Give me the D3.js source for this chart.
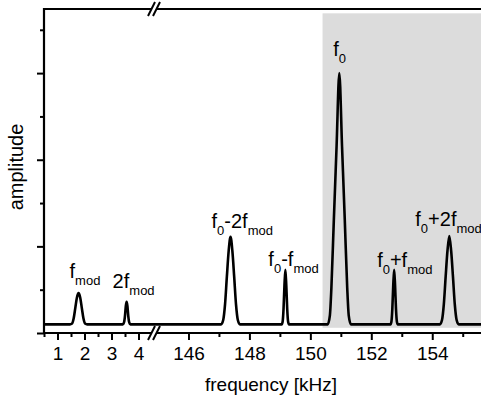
<!DOCTYPE html>
<html>
<head>
<meta charset="utf-8">
<script src="https://cdn.jsdelivr.net/npm/d3@7/dist/d3.min.js"></script>
<style>
  html, body { margin: 0; padding: 0; background: #fff; }
  svg { display: block; font-family: "Liberation Sans", Arial, sans-serif; }
</style>
</head>
<body>
<svg id="chart" width="481" height="399"></svg>
<script>
// ---- data ----
// low-frequency segment (kHz) of the spectrum
const lowFreq = [0.5, 1.46, 1.54, 1.60, 1.66, 1.72, 1.78, 1.84, 1.90, 1.96, 2.02, 2.10,
                 3.42, 3.47, 3.50, 3.53, 3.56, 3.59, 3.62, 3.65, 3.70, 4.5];
const lowAmp  = [0.1, 0.1, 0.11, 0.17, 0.29, 0.41, 0.46, 0.41, 0.29, 0.17, 0.11, 0.1,
                 0.1, 0.13, 0.2, 0.31, 0.36, 0.31, 0.2, 0.13, 0.1, 0.1];
// high-frequency segment (kHz)
const highFreq = [145,
  147.07, 147.14, 147.20, 147.26, 147.32, 147.38, 147.44, 147.50, 147.56, 147.62, 147.69,
  149.06, 149.09, 149.12, 149.15, 149.18, 149.21, 149.24, 149.27, 149.30,
  150.57, 150.64, 150.69, 150.77, 150.86, 150.95, 151.04, 151.13, 151.21, 151.26, 151.33,
  152.63, 152.66, 152.69, 152.72, 152.75, 152.78, 152.81, 152.84, 152.87,
  154.25, 154.32, 154.38, 154.44, 154.50, 154.56, 154.62, 154.68, 154.74, 154.80, 154.87,
  155.6];
const highAmp = [0.1,
  0.1, 0.15, 0.33, 0.65, 0.95, 1.11, 0.95, 0.65, 0.33, 0.15, 0.1,
  0.1, 0.13, 0.28, 0.55, 0.73, 0.55, 0.28, 0.13, 0.1,
  0.1, 0.2, 0.52, 1.3, 2.15, 3.0, 2.15, 1.3, 0.52, 0.2, 0.1,
  0.1, 0.13, 0.28, 0.55, 0.73, 0.55, 0.28, 0.13, 0.1,
  0.1, 0.15, 0.33, 0.65, 0.95, 1.12, 0.95, 0.65, 0.33, 0.15, 0.1,
  0.1];
// peak labels
const peakLabels = ["f_{mod}", "2f_{mod}", "f_{0}-2f_{mod}", "f_{0}-f_{mod}", "f_{0}", "f_{0}+f_{mod}", "f_{0}+2f_{mod}"];
const peakFreq   = [1.78, 3.56, 147.38, 149.18, 150.95, 152.75, 154.56];
const peakAmp    = [0.46, 0.36, 1.11, 0.73, 3.0, 0.73, 1.12];
const peakSegment = ["low", "low", "high", "high", "high", "high", "high"];
// ticks
const lowMajor = [1, 2, 3, 4];
const lowMinor = [0.5, 1.5, 2.5, 3.5];
const highMajor = [146, 148, 150, 152, 154];
const highMinor = [147, 149, 151, 153, 155];
const yMajor = [0, 1, 2, 3];
const yMinor = [0.5, 1.5, 2.5, 3.5];
// shaded region (kHz, amplitude)
const shadeFreq = [150.4, 155.6];
const shadeAmp = [0.06, 3.69];
const xTitle = "frequency [kHz]";
const yTitle = "amplitude";

// ---- layout ----
const svg = d3.select("#chart");
const L = 44, T = 9, B = 333, R = 481;
const xLow = d3.scaleLinear().domain([0.5, 4.5]).range([L, 152]);
const xHigh = d3.scaleLinear().domain([145, 155.6]).range([158, R]);
const y = d3.scaleLinear().domain([0, 3.74]).range([B, T]);
const breakX = 154;

// shaded region
svg.append("rect")
  .attr("x", xHigh(shadeFreq[0])).attr("y", y(shadeAmp[1]))
  .attr("width", xHigh(shadeFreq[1]) - xHigh(shadeFreq[0]))
  .attr("height", y(shadeAmp[0]) - y(shadeAmp[1]))
  .attr("fill", "#dcdcdc");

// axes ticks
function styleAxis(g) {
  g.select(".domain").remove();
  g.selectAll(".tick line").attr("stroke", "#000").attr("stroke-width", 2);
  g.selectAll("text").attr("font-size", 19).attr("fill", "#000")
    .attr("font-family", "Liberation Sans, Arial, sans-serif");
}
svg.append("g").attr("transform", `translate(0,${B})`)
  .call(d3.axisBottom(xLow).tickValues(lowMajor).tickSize(7).tickPadding(7).tickFormat(d3.format("d")))
  .call(styleAxis);
svg.append("g").attr("transform", `translate(0,${B})`)
  .call(d3.axisBottom(xLow).tickValues(lowMinor).tickSize(4).tickFormat(""))
  .call(styleAxis);
svg.append("g").attr("transform", `translate(0,${B})`)
  .call(d3.axisBottom(xHigh).tickValues(highMajor).tickSize(7).tickPadding(7).tickFormat(d3.format("d")))
  .call(styleAxis);
svg.append("g").attr("transform", `translate(0,${B})`)
  .call(d3.axisBottom(xHigh).tickValues(highMinor).tickSize(4).tickFormat(""))
  .call(styleAxis);
svg.append("g").attr("transform", `translate(${L},0)`)
  .call(d3.axisLeft(y).tickValues(yMajor).tickSize(7).tickFormat(""))
  .call(styleAxis);
svg.append("g").attr("transform", `translate(${L},0)`)
  .call(d3.axisLeft(y).tickValues(yMinor).tickSize(4).tickFormat(""))
  .call(styleAxis);

// axis lines
const axisG = svg.append("g").attr("stroke", "#000").attr("stroke-width", 2.2).attr("fill", "none");
axisG.append("line").attr("x1", L - 1).attr("x2", R).attr("y1", B).attr("y2", B);
axisG.append("line").attr("x1", L - 1).attr("x2", R).attr("y1", T).attr("y2", T);
axisG.append("line").attr("x1", L).attr("x2", L).attr("y1", T - 1).attr("y2", B + 1);

// spectrum
const line = d3.line().curve(d3.curveMonotoneX);
const lowPts = lowFreq.map((f, i) => [xLow(f), y(lowAmp[i])]);
const highPts = highFreq.map((f, i) => [xHigh(f), y(highAmp[i])]);
svg.append("path").attr("d", line(lowPts.concat(highPts)))
  .attr("fill", "none").attr("stroke", "#000").attr("stroke-width", 2.6)
  .attr("stroke-linejoin", "round");

// axis breaks
function drawBreak(cx, cy) {
  const h = 7, s = 3.5, gap = 5;
  svg.append("polygon")
    .attr("points", [[cx - gap/2 - s, cy + h], [cx - gap/2 + s, cy - h], [cx + gap/2 + s, cy - h], [cx + gap/2 - s, cy + h]].map(p => p.join(",")).join(" "))
    .attr("fill", "#fff");
  [-gap/2, gap/2].forEach(o => {
    svg.append("line")
      .attr("x1", cx + o - s).attr("y1", cy + h)
      .attr("x2", cx + o + s).attr("y2", cy - h)
      .attr("stroke", "#000").attr("stroke-width", 2);
  });
}
drawBreak(breakX, B);
drawBreak(breakX, T);

// peak labels
const labelOffsets = [[-9, -15], [-14, -14], [-19, -9], [-17, -4], [-6, -17], [-17, -3], [-34, -10]];
peakLabels.forEach((lab, i) => {
  const sx = peakSegment[i] === "low" ? xLow : xHigh;
  const t = svg.append("text")
    .attr("x", sx(peakFreq[i]) + labelOffsets[i][0])
    .attr("y", y(peakAmp[i]) + labelOffsets[i][1])
    .attr("font-size", 20).attr("fill", "#000");
  const parts = lab.split(/(_\{[^}]*\})/).filter(p => p.length);
  let shifted = false;
  parts.forEach(p => {
    if (p.startsWith("_{")) {
      t.append("tspan").attr("font-size", 13).attr("dy", shifted ? 0 : 7).text(p.slice(2, -1));
      shifted = true;
    } else {
      t.append("tspan").attr("dy", shifted ? -7 : 0).text(p);
      shifted = false;
    }
  });
});

// titles
svg.append("text").attr("x", 271).attr("y", 391).attr("text-anchor", "middle")
  .attr("font-size", 19).text(xTitle);
svg.append("text").attr("transform", "translate(23,167) rotate(-90)").attr("text-anchor", "middle")
  .attr("font-size", 20).text(yTitle);
</script>
</body>
</html>
